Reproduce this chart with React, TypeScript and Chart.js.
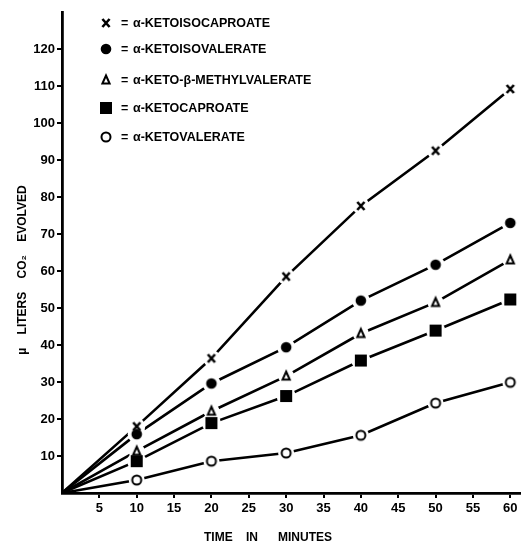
import { useEffect, useRef } from 'react';
import { Chart, registerables } from 'chart.js';

Chart.register(...registerables);

// ---- data ----
const minutes = [0, 10, 20, 30, 40, 50, 60];
const ketoisocaproate = [0, 18, 36.4, 58.5, 77.6, 92.5, 109.2];
const ketoisovalerate = [0, 15.9, 29.6, 39.4, 52, 61.7, 73];
const ketoMethylvalerate = [0, 11.3, 22.1, 31.6, 43.1, 51.5, 63];
const ketocaproate = [0, 8.6, 18.9, 26.2, 35.8, 43.9, 52.3];
const ketovalerate = [0, 3.5, 8.6, 10.8, 15.6, 24.3, 29.9];

const seriesNames = [
  'α-KETOISOCAPROATE',
  'α-KETOISOVALERATE',
  'α-KETO-β-METHYLVALERATE',
  'α-KETOCAPROATE',
  'α-KETOVALERATE',
];
const markerKinds = ['cross', 'disc', 'triangle', 'square', 'ring'];

const xTickValues = [5, 10, 15, 20, 25, 30, 35, 40, 45, 50, 55, 60];
const yTickValues = [10, 20, 30, 40, 50, 60, 70, 80, 90, 100, 110, 120];

const xTitle = 'TIME    IN      MINUTES';
const yTitle = 'µ    LITERS    CO₂    EVOLVED';

const FONT = '"Liberation Sans", Arial, sans-serif';

function makeCanvas(size: number) {
  const c = document.createElement('canvas');
  c.width = size;
  c.height = size;
  return c;
}

function markerCanvas(kind: string) {
  const s = 16;
  const c = makeCanvas(s);
  const ctx = c.getContext('2d')!;
  const m = s / 2;
  ctx.strokeStyle = '#000';
  ctx.fillStyle = '#000';
  if (kind === 'cross') {
    ctx.lineWidth = 2.6;
    ctx.beginPath();
    ctx.moveTo(m - 3.6, m - 4);
    ctx.lineTo(m + 3.6, m + 4);
    ctx.moveTo(m + 3.6, m - 4);
    ctx.lineTo(m - 3.6, m + 4);
    ctx.stroke();
  } else if (kind === 'disc') {
    ctx.beginPath();
    ctx.arc(m, m, 5.3, 0, Math.PI * 2);
    ctx.fill();
  } else if (kind === 'triangle') {
    ctx.lineWidth = 2;
    ctx.lineJoin = 'miter';
    ctx.beginPath();
    ctx.moveTo(m, m - 4.5);
    ctx.lineTo(m + 3.6, m + 3.5);
    ctx.lineTo(m - 3.6, m + 3.5);
    ctx.closePath();
    ctx.fillStyle = '#fff';
    ctx.fill();
    ctx.stroke();
  } else if (kind === 'square') {
    ctx.fillRect(m - 6, m - 6, 12, 12);
  } else {
    ctx.lineWidth = 2;
    ctx.beginPath();
    ctx.arc(m, m, 4.5, 0, Math.PI * 2);
    ctx.fillStyle = '#fff';
    ctx.fill();
    ctx.stroke();
  }
  return c;
}

const haloRadius = [8.5, 9, 8, 9.5, 8];

export default function App() {
  const ref = useRef<HTMLCanvasElement>(null);

  useEffect(() => {
    if (!ref.current) return;
    const series = [ketoisocaproate, ketoisovalerate, ketoMethylvalerate, ketocaproate, ketovalerate];
    const n = series.length;
    const markers = markerKinds.map((k) => markerCanvas(k));
    const radius = (c: any) => (c.dataIndex === 0 ? 0 : 6);

    const lineSets = series.map((vals, i) => ({
      label: seriesNames[i],
      data: minutes.map((m, j) => ({ x: m, y: vals[j] })),
      borderColor: '#000',
      borderWidth: 2.6,
      tension: 0,
      fill: false,
      pointRadius: 0,
      pointHoverRadius: 0,
    }));
    const markSets = series.map((vals, i) => ({
      label: seriesNames[i] + ' marker',
      data: minutes.map((m, j) => ({ x: m, y: vals[j] })),
      showLine: false,
      borderColor: '#000',
      borderWidth: 0,
      pointStyle: markers[i],
      pointRadius: radius,
      pointHoverRadius: radius,
    }));

    // break the lines around each marker with a white gap, then lay the markers back on top
    const markerGaps = {
      id: 'markerGaps',
      afterDatasetsDraw(chart: any) {
        const ctx = chart.ctx as CanvasRenderingContext2D;
        ctx.save();
        ctx.fillStyle = '#fff';
        for (let i = 0; i < n; i++) {
          const meta = chart.getDatasetMeta(n + i);
          meta.data.forEach((el: any, j: number) => {
            if (j === 0) return;
            ctx.beginPath();
            ctx.arc(el.x, el.y, haloRadius[i], 0, Math.PI * 2);
            ctx.fill();
          });
        }
        ctx.restore();
        for (let i = 0; i < n; i++) {
          const meta = chart.getDatasetMeta(n + i);
          meta.data.forEach((el: any) => el.draw(ctx, chart.chartArea));
        }
      },
    };

    const legendAndTitles = {
      id: 'legendAndTitles',
      afterDraw(chart: any) {
        const ctx = chart.ctx as CanvasRenderingContext2D;
        const rows = [23, 49, 80, 108, 137];
        ctx.save();
        ctx.fillStyle = '#000';
        ctx.font = `bold 12.5px ${FONT}`;
        ctx.textBaseline = 'middle';
        ctx.textAlign = 'left';
        rows.forEach((y, i) => {
          const mk = markers[i];
          ctx.drawImage(mk, 106 - mk.width / 2, y - mk.height / 2);
          ctx.fillText('=', 121, y + 0.5);
          ctx.fillText(seriesNames[i], 133, y + 0.5);
        });
        // axis titles
        ctx.font = `bold 12px ${FONT}`;
        ctx.textAlign = 'center';
        ctx.fillText(xTitle, 268, 538);
        ctx.translate(23, 270);
        ctx.rotate(-Math.PI / 2);
        ctx.fillText(yTitle, 0, 0);
        ctx.restore();
      },
    };

    const chart = new Chart(ref.current, {
      type: 'line',
      data: { datasets: [...lineSets, ...markSets] as any },
      options: {
        animation: false,
        responsive: false,
        events: [],
        layout: { padding: { top: 12, right: 7, left: 0, bottom: 0 } },
        plugins: {
          legend: { display: false },
          tooltip: { enabled: false },
        },
        scales: {
          x: {
            type: 'linear',
            min: 0,
            max: 61.3,
            afterBuildTicks: (scale: any) => {
              scale.ticks = xTickValues.map((v) => ({ value: v }));
            },
            afterFit: (scale: any) => {
              scale.height = 51;
            },
            ticks: {
              autoSkip: false,
              maxRotation: 0,
              padding: 3,
              color: '#000',
              font: { family: FONT, size: 13, weight: 'bold' },
            },
            grid: {
              drawOnChartArea: false,
              drawTicks: true,
              tickLength: 5,
              color: '#000',
              lineWidth: 2,
            },
            border: { display: true, color: '#000', width: 2.8 },
          },
          y: {
            type: 'linear',
            min: 0,
            max: 130,
            afterBuildTicks: (scale: any) => {
              scale.ticks = yTickValues.map((v) => ({ value: v }));
            },
            afterFit: (scale: any) => {
              scale.width = 62;
            },
            ticks: {
              autoSkip: false,
              padding: 2,
              color: '#000',
              font: { family: FONT, size: 13, weight: 'bold' },
            },
            grid: {
              drawOnChartArea: false,
              drawTicks: true,
              tickLength: 5,
              color: '#000',
              lineWidth: 2,
            },
            border: { display: true, color: '#000', width: 2.8 },
          },
        },
      },
      plugins: [markerGaps, legendAndTitles],
    });
    return () => chart.destroy();
  }, []);

  return (
    <div style={{ position: 'absolute', left: 0, top: 0, width: 527, height: 544, background: '#fff' }}>
      <canvas ref={ref} width={527} height={544} style={{ width: 527, height: 544 }} />
    </div>
  );
}
